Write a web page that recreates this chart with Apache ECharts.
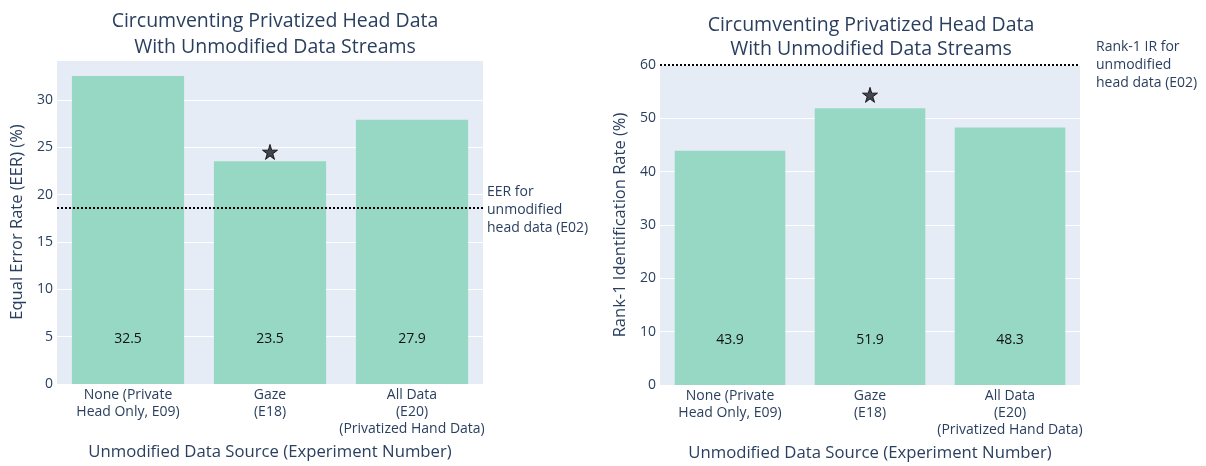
<!DOCTYPE html>
<html><head><meta charset="utf-8">
<script src="https://cdn.jsdelivr.net/npm/echarts@6/dist/echarts.min.js"></script>
<style>html,body{margin:0;padding:0;background:#fff}#c{width:1206px;height:466px}</style>
</head><body><div id="c"></div>
<script>
const categories = ["None (Private\nHead Only, E09)", "Gaze\n(E18)", "All Data\n(E20)\n(Privatized Hand Data)"];
const eerValues = [32.5, 23.5, 27.9];
const irValues = [43.9, 51.9, 48.3];
const eerStars = [null, 24.5, null];
const irStars = [null, 54.4, null];
const eerBaseline = 18.6;
const irBaseline = 60;
const titleText = "Circumventing Privatized Head Data\nWith Unmodified Data Streams";
const xName = "Unmodified Data Source (Experiment Number)";
const eerName = "Equal Error Rate (EER) (%)";
const irName = "Rank-1 Identification Rate (%)";
const eerNote = "EER for\nunmodified\nhead data (E02)";
const irNote = "Rank-1 IR for\nunmodified\nhead data (E02)";

const FONT = "Open Sans";
const TXT = "#2a3f5f";
const BAR = "#97d8c4";
const starPath = 'path://M50,0 L61,35 L98,35 L68,57 L79,91 L50,70 L21,91 L32,57 L2,35 L39,35 Z';

function xAxis(gi){
  return {type:'category', gridIndex:gi, data:categories,
    axisLine:{show:false}, axisTick:{show:false},
    axisLabel:{color:TXT, fontFamily:FONT, fontSize:14, lineHeight:17, margin:3, interval:0},
    name:xName, nameLocation:'middle', nameGap:60,
    nameTextStyle:{color:TXT, fontFamily:FONT, fontSize:16.7}};
}
function yAxis(gi, max, interval, name){
  return {type:'value', gridIndex:gi, min:0, max:max, interval:interval,
    axisLine:{show:false}, axisTick:{show:false},
    splitLine:{lineStyle:{color:'#ffffff', width:1}},
    axisLabel:{color:TXT, fontFamily:FONT, fontSize:14, margin:4, showMaxLabel: max % interval === 0},
    name:name, nameLocation:'middle', nameGap:31, nameRotate:90,
    nameTextStyle:{color:TXT, fontFamily:FONT, fontSize:16.5}};
}
function bars(gi, vals, base, note, noteOffset){
  return {type:'bar', xAxisIndex:gi, yAxisIndex:gi, data:vals, barCategoryGap:'21%',
    itemStyle:{color:BAR},
    label:{show:true, position:'insideBottom', distance:38, color:'#111', fontFamily:FONT, fontSize:14,
      formatter:p=>p.value.toFixed(1)},
    silent:true,
    markLine:{symbol:'none', silent:true, animation:false,
      lineStyle:{color:'#000', type:[2,2], width:2},
      label:{show:true, position:'end', formatter:note, color:TXT, fontFamily:FONT, fontSize:14,
        lineHeight:18, align:'left', distance:4, offset:noteOffset},
      data:[{yAxis:base}]}};
}
function stars(gi, vals){
  return {type:'scatter', xAxisIndex:gi, yAxisIndex:gi, data:vals, symbol:starPath, symbolSize:15,
    itemStyle:{color:'#1c1a24', borderColor:'#000', borderWidth:1}, silent:true};
}

const chart = echarts.init(document.getElementById('c'), null, {renderer:'canvas'});
chart.setOption({
  animation:false,
  backgroundColor:'#fff',
  title:[
    {text:titleText, left:270, top:3, textAlign:'center',
      textStyle:{color:TXT, fontFamily:FONT, fontSize:19.5, fontWeight:'normal', lineHeight:26}},
    {text:titleText, left:866, top:8, textAlign:'center',
      textStyle:{color:TXT, fontFamily:FONT, fontSize:19.5, fontWeight:'normal', lineHeight:24}}
  ],
  grid:[
    {left:57, top:60, width:426, height:324, show:true, backgroundColor:'#e5ecf6', borderWidth:0, outerBoundsMode:'none', containLabel:false},
    {left:660, top:65, width:420, height:320, show:true, backgroundColor:'#e5ecf6', borderWidth:0, outerBoundsMode:'none', containLabel:false}
  ],
  xAxis:[xAxis(0), xAxis(1)],
  yAxis:[yAxis(0, 34.2, 5, eerName), yAxis(1, 60, 10, irName)],
  series:[
    bars(0, eerValues, eerBaseline, eerNote, [0,2]),
    stars(0, eerStars),
    bars(1, irValues, irBaseline, irNote, [12,0]),
    stars(1, irStars)
  ]
});
</script></body></html>
